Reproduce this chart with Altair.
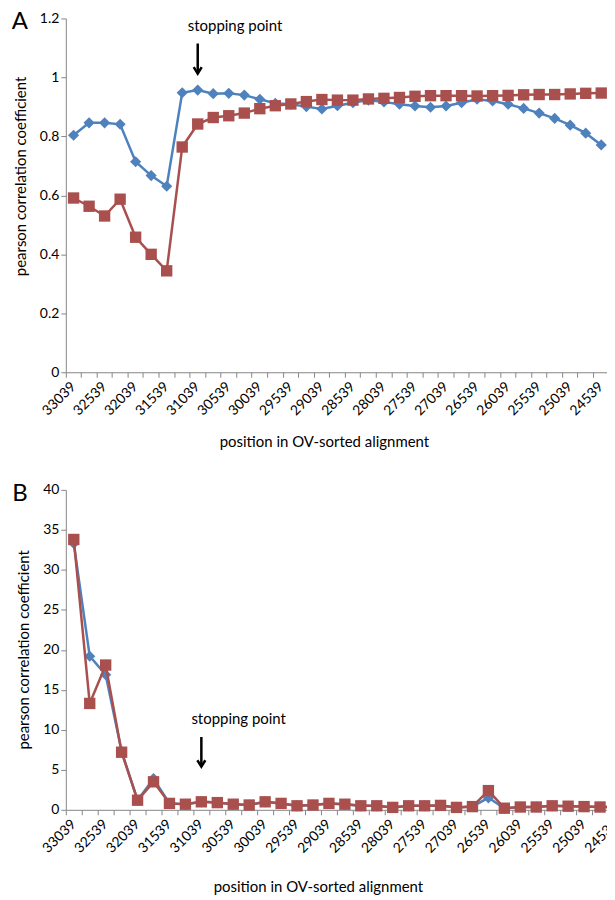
import altair as alt
import pandas as pd

positions = ["33039", "32789", "32539", "32289", "32039", "31789", "31539", "31289",
             "31039", "30789", "30539", "30289", "30039", "29789", "29539", "29289",
             "29039", "28789", "28539", "28289", "28039", "27789", "27539", "27289",
             "27039", "26789", "26539", "26289", "26039", "25789", "25539", "25289",
             "25039", "24789", "24539"]

a_blue = [0.804, 0.846, 0.846, 0.841, 0.714, 0.667, 0.631, 0.948, 0.957, 0.945,
          0.946, 0.940, 0.926, 0.912, 0.909, 0.901, 0.893, 0.904, 0.914, 0.923,
          0.917, 0.909, 0.903, 0.899, 0.903, 0.914, 0.926, 0.920, 0.909, 0.895,
          0.879, 0.861, 0.838, 0.811, 0.771]
a_red = [0.591, 0.563, 0.530, 0.587, 0.458, 0.400, 0.344, 0.764, 0.842, 0.864,
         0.870, 0.879, 0.894, 0.904, 0.910, 0.918, 0.925, 0.923, 0.923, 0.927,
         0.929, 0.932, 0.936, 0.938, 0.938, 0.938, 0.937, 0.938, 0.939, 0.941,
         0.942, 0.942, 0.944, 0.946, 0.947]

b_blue = [33.3, 19.2, 16.9, 7.3, 1.2, 3.9, 0.8, 0.7, 1.0, 0.9,
          0.7, 0.6, 1.0, 0.8, 0.5, 0.6, 0.8, 0.7, 0.5, 0.5,
          0.3, 0.5, 0.5, 0.55, 0.3, 0.4, 1.5, 0.2, 0.35, 0.35,
          0.5, 0.45, 0.4, 0.35, 0.35]
b_red = [33.8, 13.3, 18.1, 7.2, 1.2, 3.5, 0.8, 0.7, 1.0, 0.9,
         0.7, 0.6, 1.0, 0.8, 0.5, 0.6, 0.8, 0.7, 0.5, 0.5,
         0.3, 0.5, 0.5, 0.55, 0.3, 0.4, 2.4, 0.2, 0.35, 0.35,
         0.5, 0.45, 0.4, 0.35, 0.35]

a_ticks = [0, 0.2, 0.4, 0.6, 0.8, 1.0, 1.2]
b_ticks = [0, 5, 10, 15, 20, 25, 30, 35, 40]

stop_pos = "31039"
stop_label = "stopping point"
a_arrow = [1.115, 1.013]
a_text_y = 1.176
b_arrow = [9.1, 5.4]
b_text_y = 11.4

BLUE = "#4F81BD"
RED = "#A9504E"
FONT = "Lato"
X_TITLE = "position in OV-sorted alignment"
Y_TITLE = "pearson correlation coefficient"


def panel(blue, red, yticks, ymax, yfmt, arrow, text_y, letter, width, height,
          x_title_pad, x_title_x, y_title_y):
    df = pd.DataFrame({"pos": positions, "blue": blue, "red": red})
    xenc = alt.X(
        "pos:N", sort=positions,
        scale=alt.Scale(paddingInner=0, paddingOuter=0),
        axis=alt.Axis(
            title=X_TITLE, bandPosition=0,
            labelAngle=-45, labelAlign="right",
            labelBaseline="middle", labelOverlap=False, labelPadding=7,
            labelExpr="(33039 - toNumber(datum.value)) % 500 == 0 ? datum.label : ''",
            titlePadding=x_title_pad, titleX=x_title_x,
        ),
    )
    yscale = alt.Scale(domain=[0, ymax], nice=False, zero=True)
    yaxis = alt.Axis(title=Y_TITLE, values=yticks, format=yfmt, titlePadding=11,
                     titleY=y_title_y)
    base = alt.Chart(df).encode(x=xenc)
    blue_line = base.mark_line(color=BLUE, strokeWidth=2.5).encode(
        y=alt.Y("blue:Q", scale=yscale, axis=yaxis))
    blue_pts = base.mark_point(shape="diamond", size=125, filled=True, opacity=1,
                               color=BLUE).encode(y="blue:Q")
    red_line = base.mark_line(color=RED, strokeWidth=2.5).encode(y="red:Q")
    red_pts = base.mark_point(shape="square", size=130, filled=True, opacity=1,
                              color=RED).encode(y="red:Q")

    ann = pd.DataFrame({"pos": [stop_pos], "y1": [arrow[0]], "y2": [arrow[1]],
                        "ty": [text_y], "label": [stop_label]})
    abase = alt.Chart(ann).encode(x=alt.X("pos:N", sort=positions))
    shaft = abase.mark_rule(color="black", strokeWidth=2.5).encode(y="y1:Q", y2="y2:Q")
    head = abase.mark_point(shape="M-1,-1.6L0,0L1,-1.6", size=64, filled=False,
                            color="black", strokeWidth=2.5, opacity=1).encode(y="y2:Q")
    txt = abase.mark_text(align="left", baseline="middle", dx=-10, fontSize=15,
                          font=FONT, color="black").encode(y="ty:Q", text="label:N")
    let = alt.Chart(pd.DataFrame({"t": [letter]})).mark_text(
        fontSize=24, font=FONT, color="black", align="center", baseline="middle"
    ).encode(x=alt.value(-46), y=alt.value(4), text="t:N")

    return alt.layer(blue_line, blue_pts, red_line, red_pts, shaft, head, txt, let
                     ).properties(width=width, height=height)


pa = panel(a_blue, a_red, a_ticks, 1.2, ".1~f", a_arrow, a_text_y, "A",
           545, 355, 17, 259, 158)
pb = panel(b_blue, b_red, b_ticks, 40, "d", b_arrow, b_text_y, "B",
           560, 321, 24, 253, 160)

chart = alt.vconcat(pa, pb, spacing=32).properties(
    padding={"left": 3, "top": 1, "right": -17, "bottom": 0}
).configure_view(stroke=None).configure_axis(
    grid=False, domainColor="#868686", tickColor="#868686", tickSize=5,
    labelColor="black", titleColor="black", labelFont=FONT, titleFont=FONT,
    labelFontSize=14, titleFontSize=15, titleFontWeight="normal",
)

chart.save("out.html", embed_options={"renderer": "svg", "actions": False})
